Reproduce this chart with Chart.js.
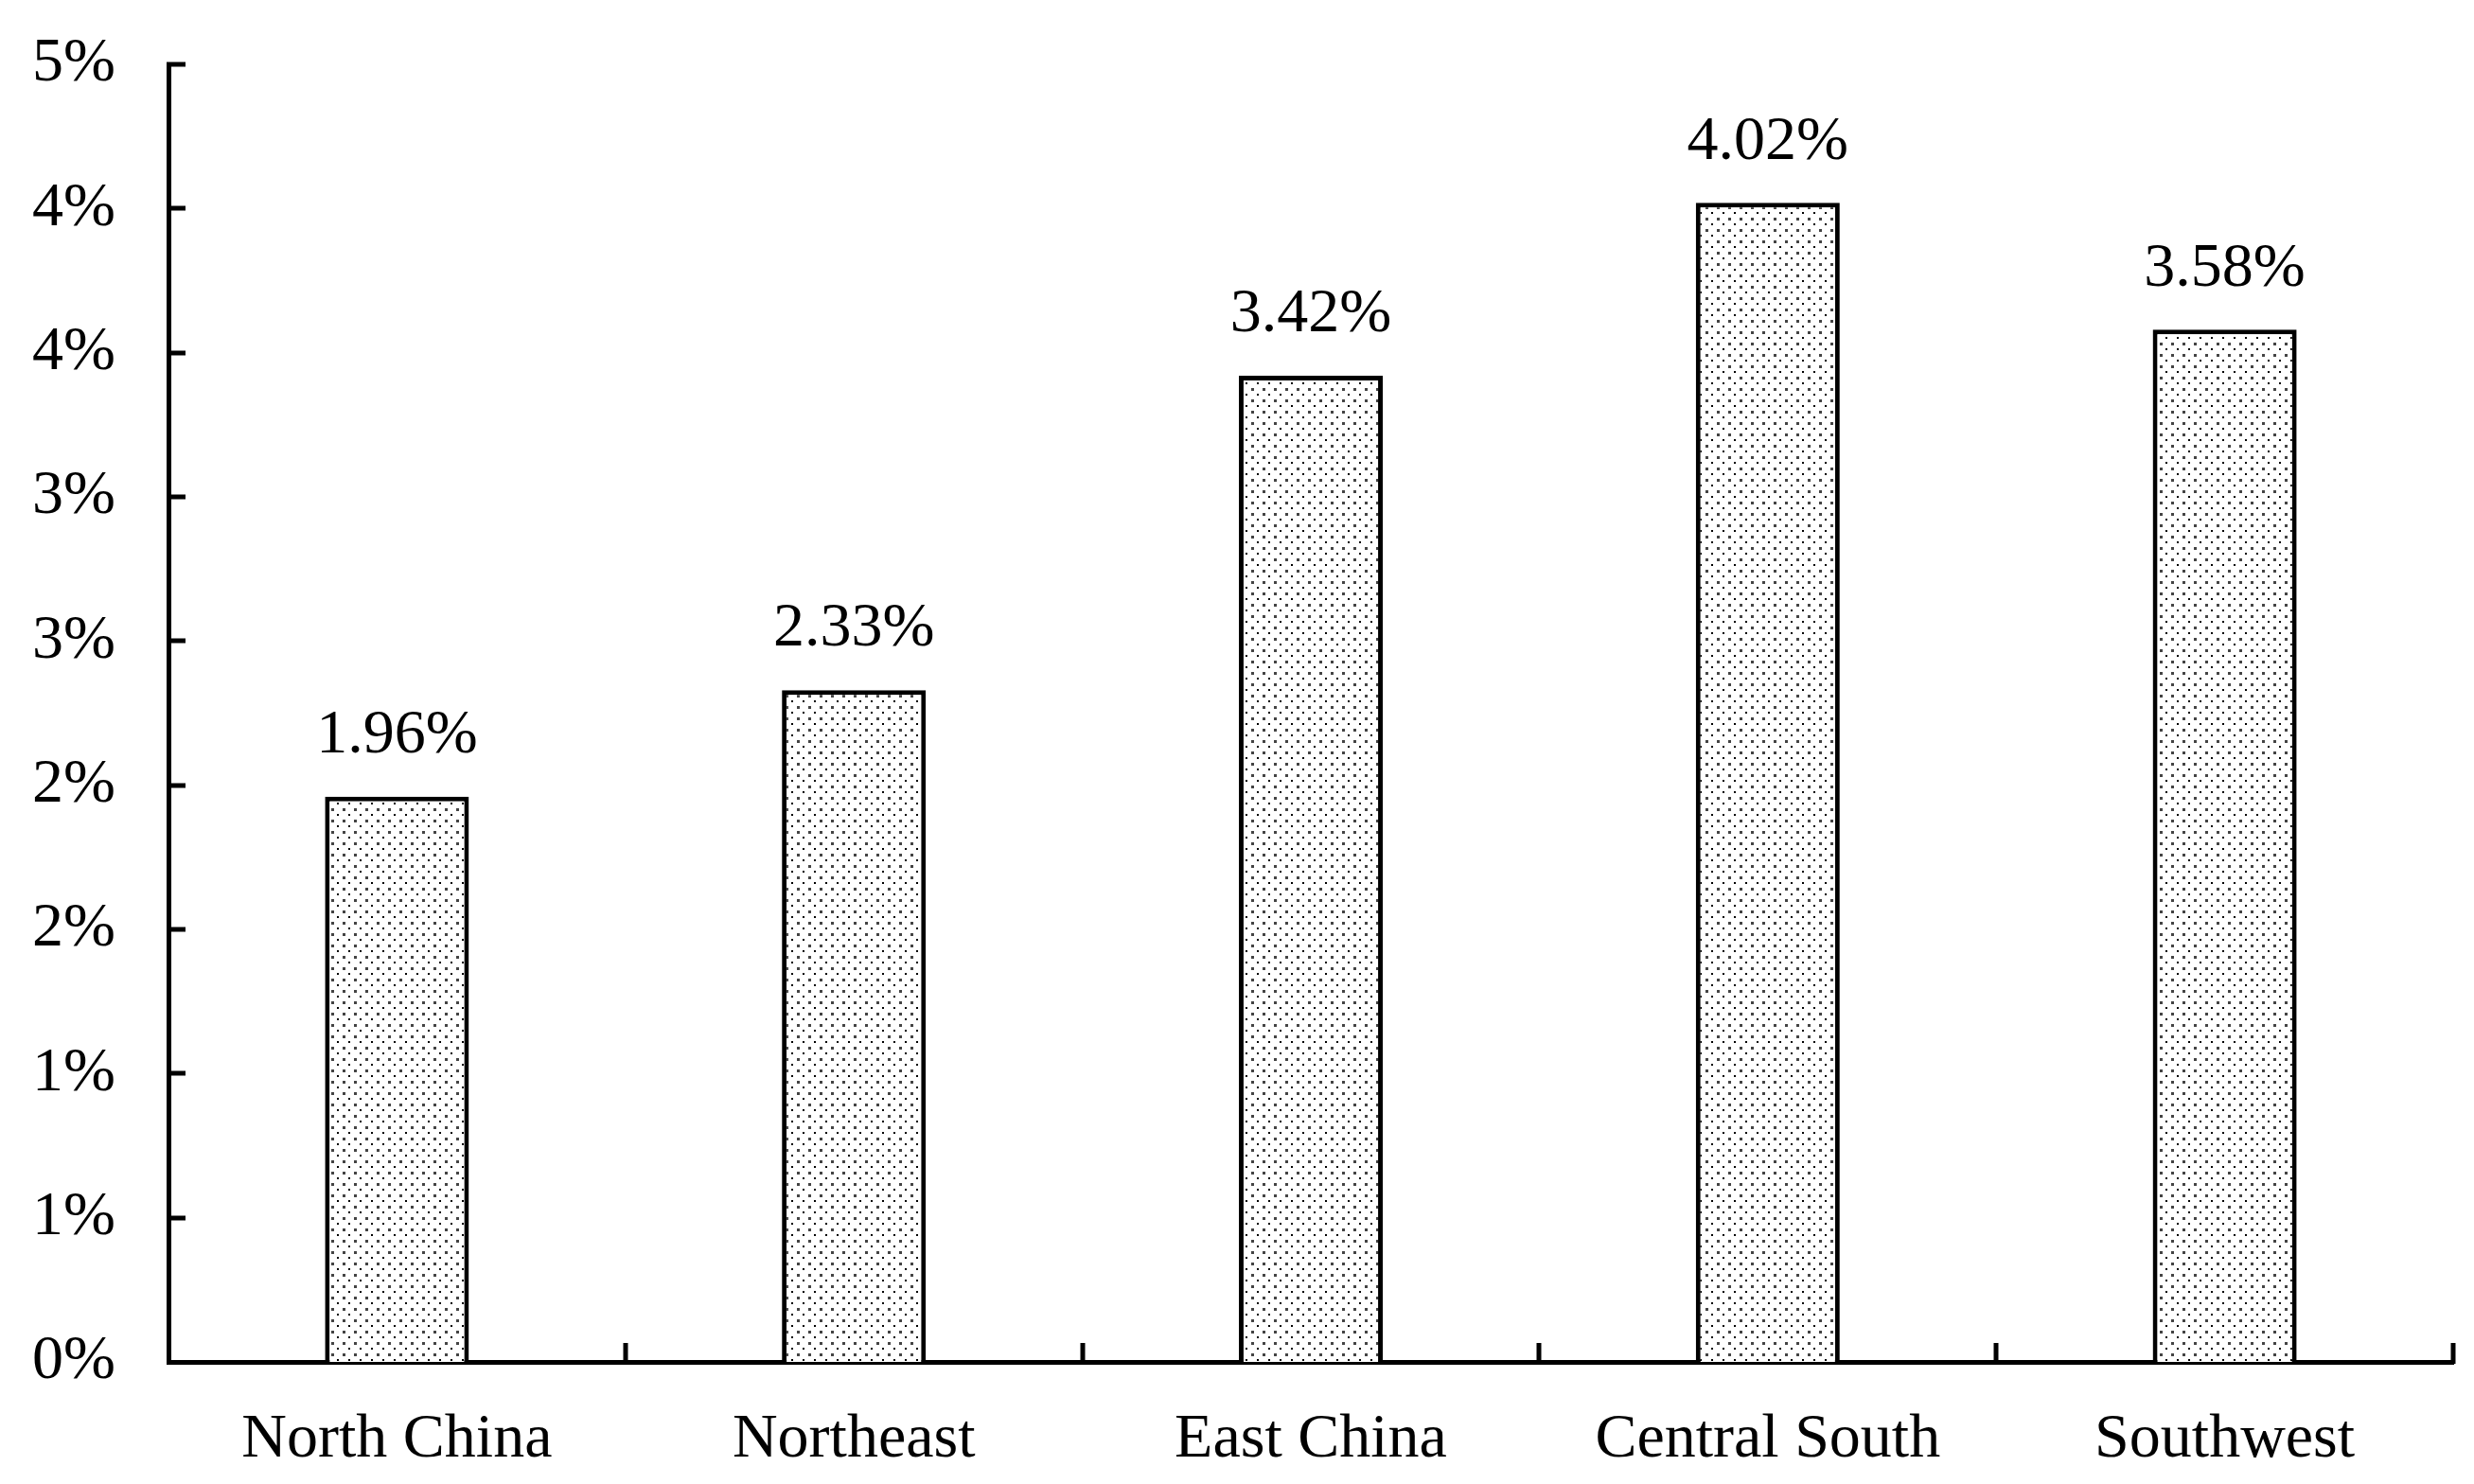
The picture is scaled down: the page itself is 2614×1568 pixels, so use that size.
<!DOCTYPE html>
<html>
<head>
<meta charset="utf-8">
<script src="https://cdn.jsdelivr.net/npm/chart.js@4/dist/chart.umd.min.js"></script>
<style>
html,body{margin:0;padding:0;background:#fff;}
#wrap{width:2614px;height:1568px;}
</style>
</head>
<body>
<div id="wrap"><canvas id="c" width="2614" height="1568"></canvas></div>
<script>
const categories = ["North China", "Northeast", "East China", "Central South", "Southwest"];
const values = [1.96, 2.33, 3.42, 4.02, 3.58];
const valueLabels = ["1.96%", "2.33%", "3.42%", "4.02%", "3.58%"];
const yTickValues = [0, 0.5, 1, 1.5, 2, 2.5, 3, 3.5, 4, 4.5];
const yTickLabels = ["0%", "1%", "1%", "2%", "2%", "3%", "3%", "4%", "4%", "5%"];

const FONT = "'Liberation Serif', 'Times New Roman', serif";

function makePattern() {
  const t = document.createElement('canvas');
  t.width = 12; t.height = 12;
  const g = t.getContext('2d');
  g.fillStyle = '#ffffff';
  g.fillRect(0, 0, 12, 12);
  g.fillStyle = '#444444';
  g.fillRect(2, 2, 3, 3);
  g.fillStyle = '#000000';
  g.fillRect(8, 8, 2, 2);
  return document.getElementById('c').getContext('2d').createPattern(t, 'repeat');
}

const innerTicks = {
  id: 'innerTicks',
  afterDraw(chart) {
    const ctx = chart.ctx;
    const xs = chart.scales.x, ys = chart.scales.y;
    const area = chart.chartArea;
    ctx.save();
    ctx.strokeStyle = '#000';
    ctx.lineWidth = 5;
    ctx.lineCap = 'butt';
    ys.ticks.forEach(t => {
      if (t.value === 0) return;
      const y = Math.round(ys.getPixelForValue(t.value));
      ctx.beginPath();
      ctx.moveTo(area.left - 2, y);
      ctx.lineTo(area.left + 18, y);
      ctx.stroke();
    });
    for (let i = 1; i <= categories.length; i++) {
      const x = Math.round(xs.getPixelForValue(i - 0.5));
      ctx.beginPath();
      ctx.moveTo(x, area.bottom + 2);
      ctx.lineTo(x, area.bottom - 20);
      ctx.stroke();
    }
    const meta = chart.getDatasetMeta(0);
    ctx.fillStyle = '#000';
    ctx.font = "66px " + FONT;
    ctx.textAlign = 'center';
    ctx.textBaseline = 'middle';
    meta.data.forEach((bar, i) => {
      ctx.fillText(valueLabels[i], bar.x, bar.y - 64);
    });
    ctx.restore();
  }
};

new Chart(document.getElementById('c'), {
  type: 'bar',
  data: {
    labels: categories,
    datasets: [{
      data: values,
      backgroundColor: makePattern(),
      borderColor: '#000',
      borderWidth: 5,
      borderSkipped: 'bottom',
      barPercentage: 0.315,
      categoryPercentage: 1.0
    }]
  },
  options: {
    responsive: false,
    animation: false,
    devicePixelRatio: 1,
    layout: { padding: { left: 0, right: 22, top: 68, bottom: 0 } },
    plugins: { legend: { display: false }, tooltip: { enabled: false } },
    scales: {
      x: {
        offset: true,
        grid: { display: false, drawTicks: false },
        border: { display: true, color: '#000', width: 5 },
        ticks: {
          color: '#000',
          font: { family: FONT, size: 66 },
          padding: 43,
          maxRotation: 0,
          autoSkip: false
        },
        afterFit(s) { s.height = 129; s.paddingLeft = 0; s.paddingRight = 0; }
      },
      y: {
        min: 0,
        max: 4.5,
        afterBuildTicks(s) { s.ticks = yTickValues.map(v => ({ value: v })); },
        grid: { display: false, drawTicks: false },
        border: { display: true, color: '#000', width: 5 },
        ticks: {
          color: '#000',
          font: { family: FONT, size: 66 },
          padding: 56,
          callback(value) {
            const idx = yTickValues.indexOf(value);
            return idx >= 0 ? yTickLabels[idx] : '';
          }
        },
        afterFit(s) { s.width = 178; s.paddingTop = 0; s.paddingBottom = 0; }
      }
    }
  },
  plugins: [innerTicks]
});
</script>
</body>
</html>
